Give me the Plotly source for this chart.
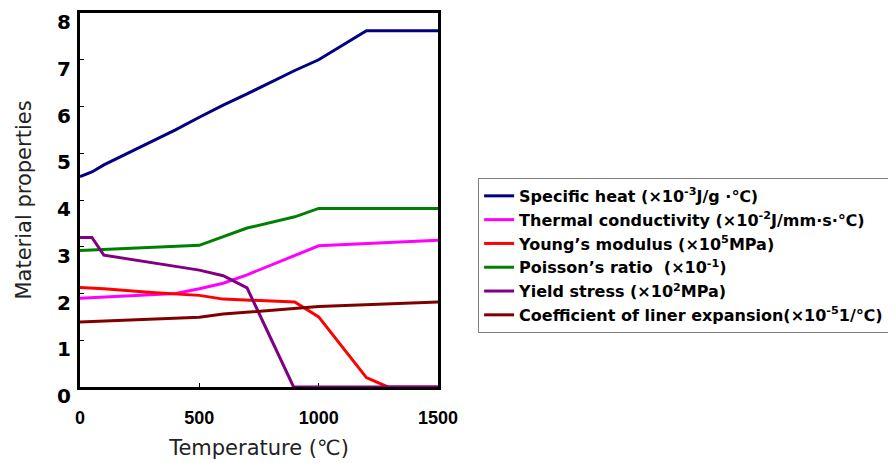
import plotly.graph_objects as go

# Data
sh_x = [0, 50, 100, 200, 300, 400, 500, 600, 700, 800, 900, 1000, 1200, 1500]
sh_y = [4.5, 4.6, 4.75, 5.0, 5.25, 5.5, 5.77, 6.03, 6.27, 6.52, 6.77, 7.0, 7.62, 7.62]

tc_x = [0, 400, 500, 600, 700, 1000, 1500]
tc_y = [1.9, 2.0, 2.1, 2.22, 2.4, 3.02, 3.14]

ym_x = [0, 100, 300, 500, 600, 700, 900, 1000, 1200, 1290, 1500]
ym_y = [2.13, 2.1, 2.02, 1.96, 1.88, 1.86, 1.82, 1.5, 0.2, 0.0, 0.0]

pr_x = [0, 400, 500, 700, 900, 1000, 1500]
pr_y = [2.92, 3.02, 3.03, 3.4, 3.64, 3.82, 3.82]

ys_x = [0, 50, 100, 500, 600, 700, 895, 1500]
ys_y = [3.2, 3.2, 2.82, 2.5, 2.38, 2.12, 0.0, 0.0]

ce_x = [0, 500, 600, 1000, 1500]
ce_y = [1.39, 1.49, 1.56, 1.72, 1.82]

x_ticks = [0, 500, 1000, 1500]
y_ticks = [0, 1, 2, 3, 4, 5, 6, 7, 8]

names = [
    "Specific heat (×10<sup>-3</sup>J/g ·℃)",
    "Thermal conductivity (×10<sup>-2</sup>J/mm·s·℃)",
    "Young’s modulus (×10<sup>5</sup>MPa)",
    "Poisson’s ratio  (×10<sup>-1</sup>)",
    "Yield stress (×10<sup>2</sup>MPa)",
    "Coefficient of liner expansion(×10<sup>-5</sup>1/℃)",
]
colors = ["#000080", "#FF00FF", "#FF0000", "#008000", "#800080", "#800000"]
series = [(sh_x, sh_y), (tc_x, tc_y), (ym_x, ym_y), (pr_x, pr_y), (ys_x, ys_y), (ce_x, ce_y)]

fig = go.Figure()
for (xs, ys), n, c in zip(series, names, colors):
    fig.add_trace(go.Scatter(x=xs, y=ys, mode="lines", name=n,
                             line=dict(color=c, width=3)))

font_fam = "Liberation Sans, Arial, Noto Sans CJK JP, sans-serif"
wide_fam = "DejaVu Sans, Liberation Sans, Noto Sans CJK JP, sans-serif"

# y tick labels (drawn slightly below their ticks, as in the reference)
for v in y_ticks:
    fig.add_annotation(
        x=0, xref="paper", y=v, yref="y", text=str(v), showarrow=False,
        xanchor="right", yanchor="middle", xshift=-7, yshift=-9,
        font=dict(size=20, family=wide_fam, weight="bold", color="black"),
    )

fig.update_layout(
    width=896, height=463,
    margin=dict(l=72, r=466, t=5, b=84, autoexpand=False),
    paper_bgcolor="white", plot_bgcolor="white",
    font=dict(family=font_fam, color="black"),
    legend=dict(
        x=1.112, y=0.559, xanchor="left", yanchor="top",
        bordercolor="#808080", borderwidth=1,
        font=dict(size=16, family=wide_fam, color="black", weight="bold"),
        tracegroupgap=0,
    ),
    showlegend=True,
)
fig.update_xaxes(
    range=[0, 1500], tickvals=x_ticks,
    showgrid=False, zeroline=False, automargin=False,
    showline=True, linecolor="black", linewidth=3, mirror=True,
    ticks="inside", ticklen=4, tickcolor="black",
    tickfont=dict(size=18, weight="bold", color="black"),
    ticklabelstandoff=12,
    title=dict(text="Temperature (℃)", font=dict(size=21, family=wide_fam, color="#222222"), standoff=14),
    layer="below traces",
)
fig.update_yaxes(
    range=[0, 8], tickvals=y_ticks, showticklabels=False,
    showgrid=False, zeroline=False, automargin=False,
    showline=True, linecolor="black", linewidth=3, mirror=True,
    ticks="inside", ticklen=4, tickcolor="black",
    title=dict(text="Material properties", font=dict(size=21, family=wide_fam, color="#222222"), standoff=40),
    layer="below traces",
)

fig.write_html("out.html")
